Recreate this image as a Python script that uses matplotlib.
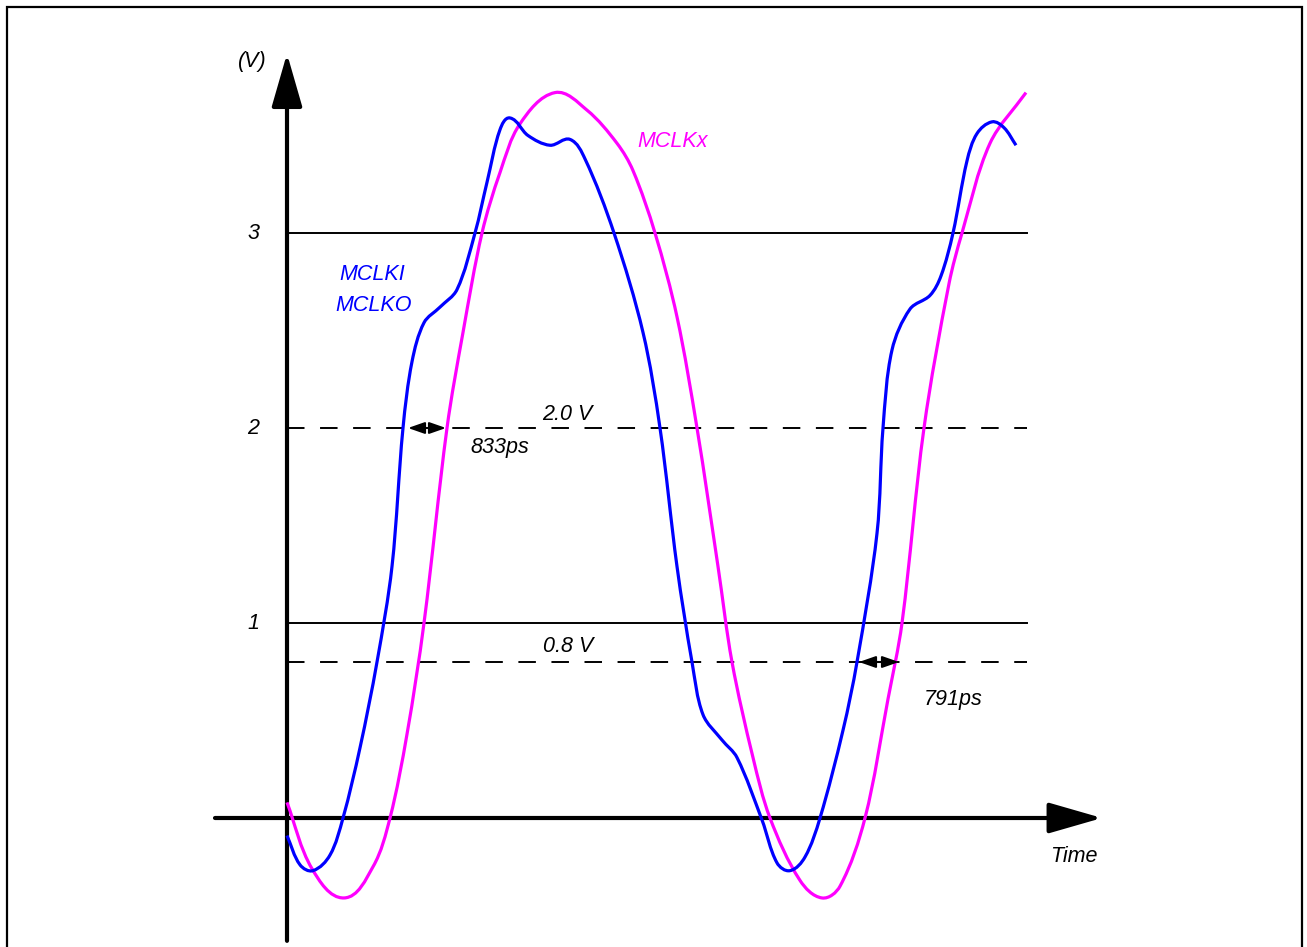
import matplotlib
matplotlib.use("Agg")
from matplotlib import pyplot as plt
import matplotlib.patches as mpatches
from matplotlib.path import Path
import numpy as np

# time in ns (origin at the V axis), level in volts
mclki_t = [0.00, 0.26, 0.52, 0.86, 1.12, 1.46, 1.80, 2.10, 2.32, 2.50, 2.74, 3.06,
           3.40, 3.76, 4.00, 4.26, 4.46, 4.82, 5.26, 5.66, 5.96, 6.54, 7.12, 7.46, 7.80,
           8.10, 8.32, 8.70, 9.00, 9.50, 9.80, 10.06, 10.36, 10.66, 11.12, 11.40,
           11.80, 11.92, 12.10, 12.46, 12.86, 13.08, 13.32, 13.60, 13.80, 14.10,
           14.34, 14.58]
mclki_v = [-0.09, -0.24, -0.27, -0.19, 0.00, 0.36, 0.80, 1.29, 2.00, 2.34, 2.54, 2.62,
           2.71, 3.00, 3.26, 3.53, 3.59, 3.50, 3.45, 3.48, 3.38, 3.00, 2.49, 2.00, 1.29,
           0.80, 0.53, 0.40, 0.31, -0.01, -0.23, -0.27, -0.20, 0.00, 0.45, 0.80,
           1.46, 2.00, 2.40, 2.61, 2.68, 2.78, 3.00, 3.37, 3.51, 3.57,
           3.54, 3.45]

mclkx_t = [0.00, 0.50, 1.14, 1.72, 2.06, 2.40, 2.74, 3.20, 3.52, 3.90, 4.26, 4.66,
           5.36, 6.00, 6.60, 6.92, 7.36, 7.80, 8.20, 8.62, 8.90, 9.32, 9.66, 10.26,
           10.70, 11.06, 11.56, 12.02, 12.30, 12.74, 13.24, 13.50, 14.06, 14.78]
mclkx_v = [0.08, -0.26, -0.41, -0.25, 0.00, 0.43, 1.00, 2.00, 2.49, 3.00, 3.31, 3.56,
           3.72, 3.63, 3.46, 3.32, 3.00, 2.57, 2.00, 1.29, 0.80, 0.31, 0.00, -0.32,
           -0.41, -0.35, 0.00, 0.61, 1.00, 2.00, 2.74, 3.00, 3.46, 3.72]

ref_levels = [3.0, 2.0, 1.0, 0.8]
ref_styles = ['-', '--', '-', '--']
tick_levels = [3, 2, 1]
level_notes = ['2.0 V', '0.8 V']
note_t = [5.60, 5.62]
note_v = [2.07, 0.88]

skew_v = [2.0, 0.8]
skew_t0 = [2.42, 11.44]
skew_t1 = [3.18, 12.24]
skew_labels = ['833ps', '791ps']
skew_label_t = [4.26, 13.32]
skew_label_v = [1.90, 0.61]

PX_NS, PX_V = 50, 195  # drawing scale


def smooth_path(t, v):
    # bezier through the points, tangents taken in screen proportions
    s = np.array([PX_NS, PX_V], dtype=float)
    p = np.column_stack([t, v]) * s
    n = len(p)
    tang = np.zeros_like(p)
    for i in range(n):
        a = p[max(i - 1, 0)]
        b = p[min(i + 1, n - 1)]
        d = b - a
        tang[i] = d / np.hypot(*d)
    verts = [p[0]]
    codes = [Path.MOVETO]
    for i in range(n - 1):
        L = np.hypot(*(p[i + 1] - p[i])) / 3
        verts += [p[i] + tang[i] * L, p[i + 1] - tang[i + 1] * L, p[i + 1]]
        codes += [Path.CURVE4] * 3
    return Path(np.array(verts) / s, codes)


W, H = 1307, 947
fig = plt.figure(figsize=(W / 100, H / 100), dpi=100)
ax = fig.add_axes([0, 0, 1, 1])
# origin of the axes at pixel (287, 818)
ax.set_xlim(-287 / PX_NS, (W - 287) / PX_NS)
ax.set_ylim((818 - H) / PX_V, 818 / PX_V)
ax.axis('off')

font = dict(family='Liberation Sans', style='italic', fontsize=15.5)

# frame around the figure
fig.patches.append(mpatches.Rectangle((7 / W, -0.02), (1302 - 7) / W, 1.02 - 7 / H,
                                      transform=fig.transFigure, fill=False,
                                      edgecolor='black', linewidth=1.6))

t_end = 14.8
for lev, ls in zip(ref_levels, ref_styles):
    ax.plot([0, t_end], [lev, lev], color='black', linestyle=ls, linewidth=1.4,
            dashes=(9, 8) if ls == '--' else (None, None), zorder=1)

for lev in tick_levels:
    ax.text(-0.68, lev, str(lev), ha='center', va='center', **font)

for txt, t, v in zip(level_notes, note_t, note_v):
    ax.text(t, v, txt, ha='center', va='center', **font)

# axes with arrows
head = '-|>,head_length=3.3,head_width=0.95'
ax.annotate('', xy=(16.3, 0), xytext=(-1.44, 0),
            arrowprops=dict(arrowstyle=head, lw=3, color='black', shrinkA=0,
                            shrinkB=0, mutation_scale=10), zorder=3)
ax.annotate('', xy=(0, 3.92), xytext=(0, -0.63),
            arrowprops=dict(arrowstyle=head, lw=3, color='black', shrinkA=0,
                            shrinkB=0, mutation_scale=10), zorder=3)

ax.add_patch(mpatches.PathPatch(smooth_path(mclkx_t, mclkx_v), fill=False,
                                edgecolor='#ff00ff', linewidth=2.3, zorder=4))
ax.add_patch(mpatches.PathPatch(smooth_path(mclki_t, mclki_v), fill=False,
                                edgecolor='#0000ff', linewidth=2.3, zorder=5))

for v, t0, t1 in zip(skew_v, skew_t0, skew_t1):
    ax.annotate('', xy=(t1, v), xytext=(t0, v),
                arrowprops=dict(arrowstyle='<|-|>,head_length=1.0,head_width=0.35',
                                lw=1.5, color='black', shrinkA=0, shrinkB=0,
                                mutation_scale=10), zorder=6)

for txt, t, v in zip(skew_labels, skew_label_t, skew_label_v):
    ax.text(t, v, txt, ha='center', va='center', **font)

ax.text(-0.70, 3.88, '(V)', ha='center', va='center', **font)
ax.text(15.74, -0.195, 'Time', ha='center', va='center', **font)
ax.text(1.70, 2.785, 'MCLKI', ha='center', va='center', color='#0000ff', **font)
ax.text(1.74, 2.63, 'MCLKO', ha='center', va='center', color='#0000ff', **font)
ax.text(7.72, 3.47, 'MCLKx', ha='center', va='center', color='#ff00ff', **font)

fig.savefig('out.png', dpi=100)
